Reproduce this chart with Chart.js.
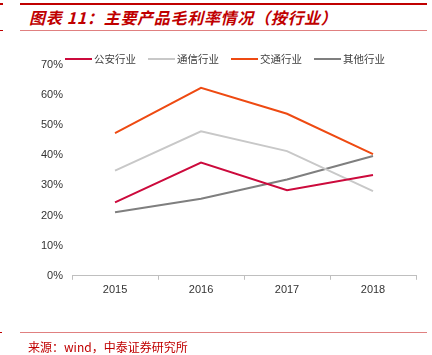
<!DOCTYPE html>
<html>
<head>
<meta charset="utf-8">
<script src="https://cdn.jsdelivr.net/npm/chart.js@4"></script>
<style>
  html, body { margin: 0; padding: 0; background: #fff; }
  #wrap { position: relative; width: 432px; height: 355px; overflow: hidden; }
  #c { position: absolute; left: 0; top: 0; }
  .rule { position: absolute; background: #c00000; }
  #title { position: absolute; left: 29px; top: 6px; font: italic bold 16px "Noto Sans CJK SC", sans-serif; color: #c00000; white-space: nowrap; line-height: 22px; letter-spacing: 0.7px; }
  #source { position: absolute; left: 28px; top: 339px; font: 12px "Noto Sans CJK SC", sans-serif; color: #c00000; white-space: nowrap; line-height: 16px; }
  #legend { position: absolute; left: 65px; top: 51px; font: 10.5px "Noto Sans CJK SC", sans-serif; color: #404040; white-space: nowrap; }
  .li { position: absolute; top: 0; height: 16px; line-height: 16px; }
  .li span.sw { position: absolute; left: 0; top: 7px; width: 27px; height: 2px; }
  .li span.tx { position: absolute; left: 29px; top: 0; }
</style>
</head>
<body>
<div id="wrap">
  <div class="rule" style="left:20px;top:3px;width:407px;height:2px;"></div>
  <div class="rule" style="left:0;top:3px;width:3px;height:2px;"></div>
  <div id="title">图表 11：主要产品毛利率情况（按行业）</div>
  <div class="rule" style="left:20px;top:30px;width:407px;height:1px;background:#e08080;"></div>
  <div class="rule" style="left:0;top:30px;width:3px;height:1px;"></div>
  <canvas id="c" width="432" height="355"></canvas>
  <div id="legend"></div>
  <div class="rule" style="left:20px;top:332px;width:407px;height:1px;background:#e08080;"></div>
  <div class="rule" style="left:0;top:332px;width:2px;height:1px;"></div>
  <div id="source">来源：wind，中泰证券研究所</div>
</div>
<script>
const categories = ["2015", "2016", "2017", "2018"];
const seriesNames = ["公安行业", "通信行业", "交通行业", "其他行业"];
const gonganValues = [24.4, 37.6, 28.4, 33.5];
const tongxinValues = [34.9, 48.0, 41.4, 28.1];
const jiaotongValues = [47.4, 62.4, 53.8, 40.4];
const qitaValues = [21.1, 25.6, 32.0, 39.8];
const yTicks = [0, 10, 20, 30, 40, 50, 60, 70];
const colors = ["#cc0a3c", "#c8c8c8", "#ee4a12", "#7f7f7f"];

const allValues = [gonganValues, tongxinValues, jiaotongValues, qitaValues];
const datasets = allValues.map((vals, i) => ({
  label: seriesNames[i],
  data: vals,
  borderColor: colors[i],
  backgroundColor: colors[i],
  borderWidth: 2,
  pointRadius: 0,
  tension: 0,
  fill: false
}));

const legend = document.getElementById('legend');
seriesNames.forEach((name, i) => {
  const li = document.createElement('div');
  li.className = 'li';
  li.style.left = (i * 83) + 'px';
  li.innerHTML = '<span class="sw" style="background:' + colors[i] + '"></span><span class="tx">' + name + '</span>';
  legend.appendChild(li);
});

new Chart(document.getElementById('c'), {
  type: 'line',
  data: { labels: categories, datasets: datasets },
  options: {
    responsive: false,
    animation: false,
    events: [],
    layout: { padding: { left: 32, right: 16, top: 65, bottom: 54 } },
    plugins: { legend: { display: false }, tooltip: { enabled: false } },
    scales: {
      x: {
        offset: true,
        grid: { display: true, offset: true, drawOnChartArea: false, drawTicks: true, tickLength: 4, color: '#bfbfbf' },
        border: { display: true, color: '#bfbfbf', width: 1 },
        ticks: { color: '#333', font: { family: 'Liberation Sans, Arial', size: 11 }, padding: 4 }
      },
      y: {
        min: 0, max: 70,
        afterBuildTicks: (s) => { s.ticks = yTicks.map(v => ({ value: v })); },
        grid: { display: false, drawTicks: false },
        border: { display: false },
        ticks: { color: '#333', font: { family: 'Liberation Sans, Arial', size: 11 }, padding: 9, callback: v => v + '%' }
      }
    }
  }
});
</script>
</body>
</html>
